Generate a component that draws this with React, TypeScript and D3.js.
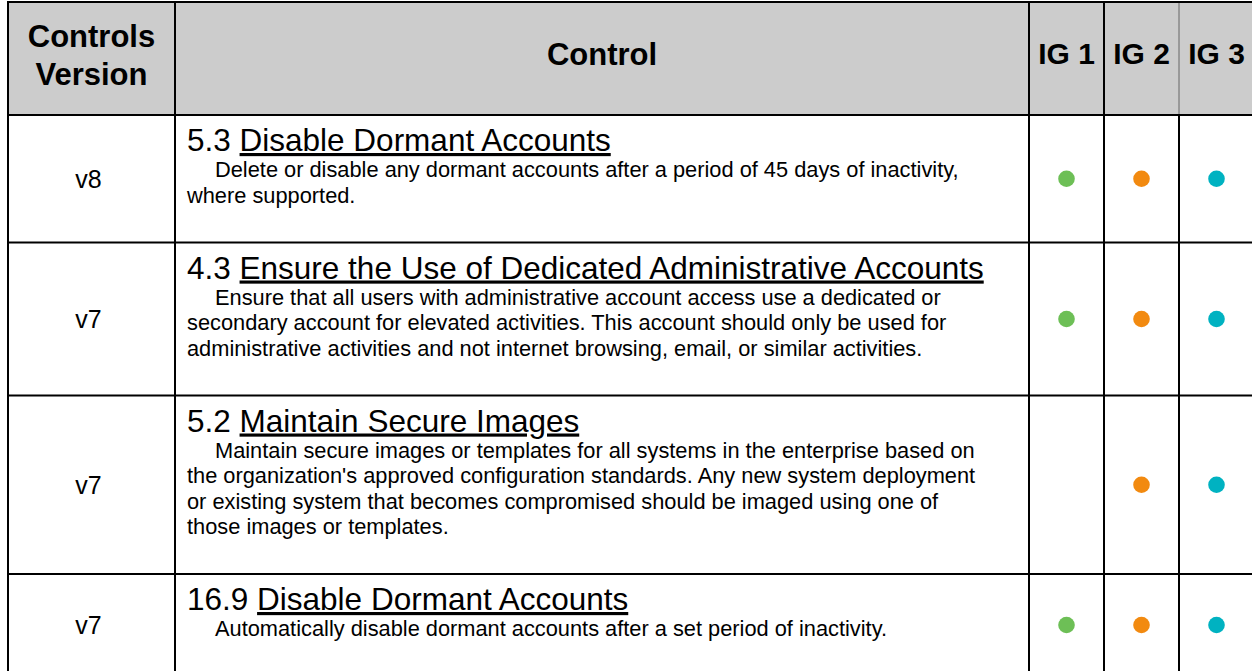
import * as d3 from 'd3'

// table content
const headerLabels = ['Controls Version', 'Control']
const versions = ['v8', 'v7', 'v7', 'v7']
const controlIds = ['5.3', '4.3', '5.2', '16.9']
const controlTitles = [
  'Disable Dormant Accounts',
  'Ensure the Use of Dedicated Administrative Accounts',
  'Maintain Secure Images',
  'Disable Dormant Accounts',
]
const descriptionLines = [
  [
    'Delete or disable any dormant accounts after a period of 45 days of inactivity,',
    'where supported.',
  ],
  [
    'Ensure that all users with administrative account access use a dedicated or',
    'secondary account for elevated activities. This account should only be used for',
    'administrative activities and not internet browsing, email, or similar activities.',
  ],
  [
    'Maintain secure images or templates for all systems in the enterprise based on',
    "the organization's approved configuration standards. Any new system deployment",
    'or existing system that becomes compromised should be imaged using one of',
    'those images or templates.',
  ],
  ['Automatically disable dormant accounts after a set period of inactivity.'],
]
const igLabels = ['IG 1', 'IG 2', 'IG 3']
// 1 = implementation group applies
const igFlags = [
  [1, 1, 1],
  [1, 1, 1],
  [0, 1, 1],
  [1, 1, 1],
]

const W = 1252
const H = 671
const FONT = "'Liberation Sans', Arial, Helvetica, sans-serif"

export default function App() {
  // layout
  const left = 8
  const verRight = 175
  const ctrlRight = 1029
  const right = 1254
  const top = 2
  const headBottom = 115
  const lineStep = 25.5

  const ig = d3.scaleBand<string>().domain(igLabels).range([ctrlRight, right])
  const color = d3.scaleOrdinal<string, string>()
    .domain(igLabels)
    .range(['#6dbf56', '#f28a10', '#00b2c1'])

  const rowH = descriptionLines.map(lines => 76.5 + lineStep * lines.length)
  const rowTop = [headBottom, ...Array.from(d3.cumsum(rowH)).map(v => headBottom + v)]
  const bottom = rowTop[rowTop.length - 1]

  const verX = (left + verRight) / 2
  const ctrlX = (verRight + ctrlRight) / 2
  const textX = verRight + 12

  const vLines = [left, verRight, ctrlRight, ...igLabels.slice(1).map(d => ig(d)!), right]

  return (
    <svg
      width={W}
      height={H}
      viewBox={`0 0 ${W} ${H}`}
      style={{ position: 'absolute', left: 0, top: 0, background: '#fff', fontFamily: FONT }}
    >
      {/* header band */}
      <rect x={left} y={top} width={right - left} height={headBottom - top} fill="#cccccc" />

      {/* header labels */}
      <text x={verX} textAnchor="middle" fontWeight="bold" fontSize={31} fill="#000">
        <tspan x={verX} y={47}>{headerLabels[0].split(' ')[0]}</tspan>
        <tspan x={verX} y={85}>{headerLabels[0].split(' ')[1]}</tspan>
      </text>
      <text x={ctrlX} y={65} textAnchor="middle" fontWeight="bold" fontSize={31} fill="#000">
        {headerLabels[1]}
      </text>
      {igLabels.map(d => (
        <text
          key={d}
          x={ig(d)! + ig.bandwidth() / 2}
          y={64}
          textAnchor="middle"
          fontWeight="bold"
          fontSize={30}
          fill="#000"
        >
          {d}
        </text>
      ))}

      {/* body rows */}
      {versions.map((v, i) => {
        const y0 = rowTop[i]
        const cy = y0 + rowH[i] / 2
        const titleY = y0 + 36
        return (
          <g key={i}>
            <text x={verX - 3} y={cy + 9} textAnchor="middle" fontSize={25} fill="#000">
              {v}
            </text>
            <text x={textX} y={titleY} fontSize={31.5} fill="#000">
              {controlIds[i]}{' '}
              <tspan style={{ textDecoration: 'underline' }}>{controlTitles[i]}</tspan>
            </text>
            <text fontSize={21.8} fill="#000">
              {descriptionLines[i].map((line, j) => (
                <tspan key={j} x={j === 0 ? textX + 28 : textX} y={titleY + 26 + j * lineStep}>
                  {line}
                </tspan>
              ))}
            </text>
            {igLabels.map((g, k) =>
              igFlags[i][k] ? (
                <circle
                  key={g}
                  cx={ig(g)! + ig.bandwidth() / 2}
                  cy={cy}
                  r={8.3}
                  fill={color(g)}
                />
              ) : null
            )}
          </g>
        )
      })}

      {/* grid */}
      <g stroke="#000" strokeWidth={2}>
        {[top, ...rowTop].map((y, i) => (
          <line key={'h' + i} x1={left - 1} x2={right + 1} y1={y} y2={y} />
        ))}
        {vLines.map((x, i) => (
          <line key={'v' + i} x1={x} x2={x} y1={top} y2={bottom} />
        ))}
      </g>
      {/* the IG 2 / IG 3 divider shows white inside the header */}
      <line
        x1={ig('IG 3')!}
        x2={ig('IG 3')!}
        y1={top + 1}
        y2={headBottom - 1}
        stroke="#fff"
        strokeWidth={1.2}
      />
    </svg>
  )
}
